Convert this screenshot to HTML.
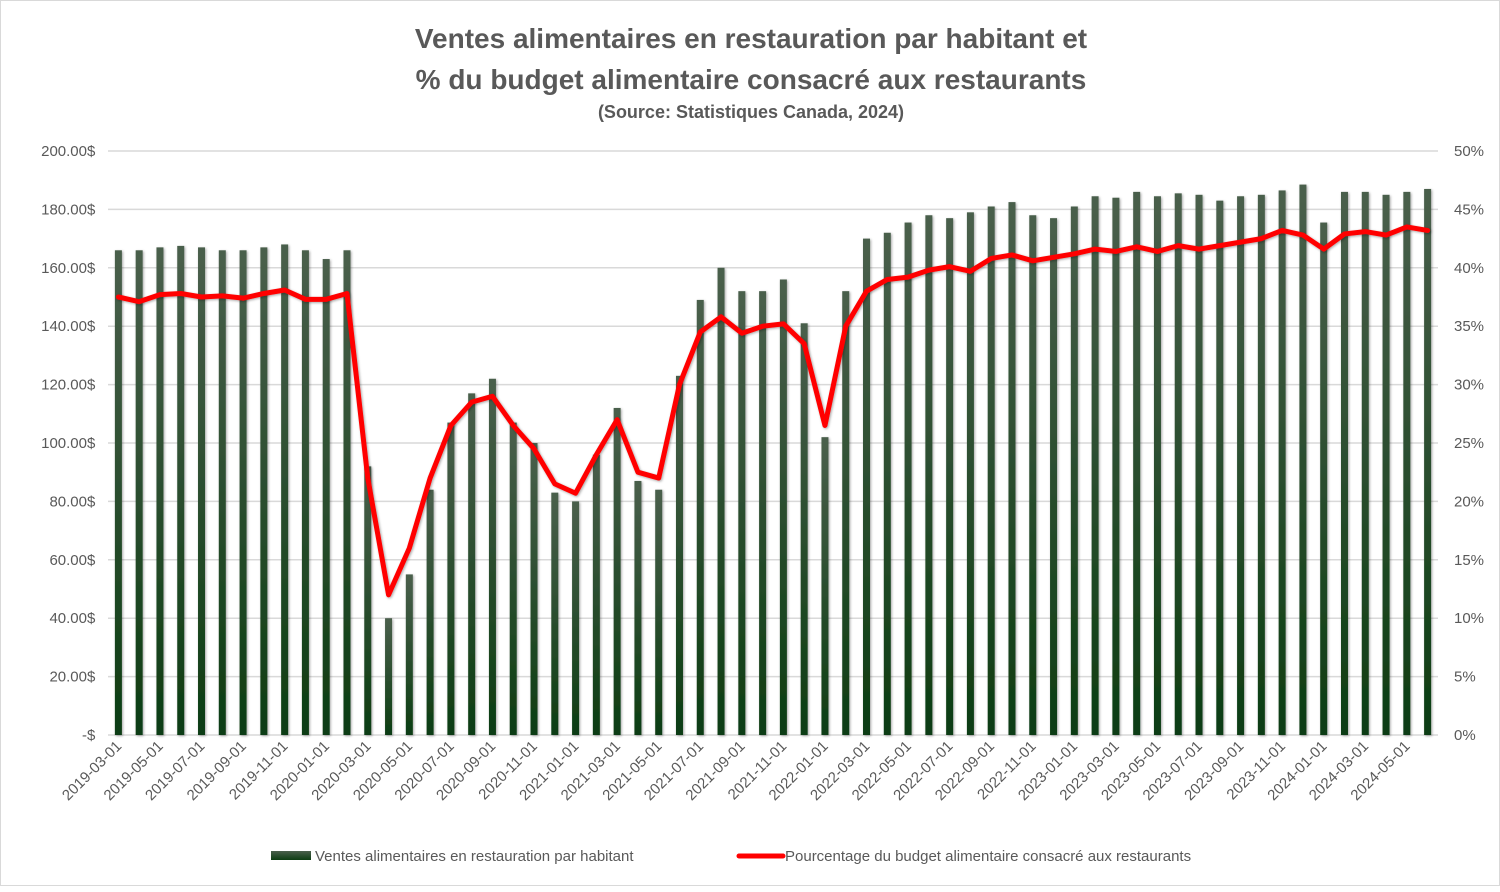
<!DOCTYPE html>
<html><head><meta charset="utf-8"><style>
body{margin:0;background:#fff;}
#wrap{position:relative;width:1500px;height:886px;border:1px solid #d9d9d9;box-sizing:border-box;font-family:"Liberation Sans",sans-serif;}
</style></head><body>
<div id="wrap">
<svg id="chart" width="1500" height="886">
<defs><linearGradient id="bg" x1="0" y1="0" x2="0" y2="1"><stop offset="0" stop-color="#4a5f4c"/><stop offset="1" stop-color="#0c3d12"/></linearGradient>
<filter id="sh" x="-50%" y="-5%" width="200%" height="110%"><feDropShadow dx="1" dy="1" stdDeviation="1.2" flood-color="#000" flood-opacity="0.35"/></filter></defs>
<text x="750" y="47" text-anchor="middle" font-size="28" font-weight="bold" fill="#595959">Ventes alimentaires en restauration par habitant et</text>
<text x="750" y="88" text-anchor="middle" font-size="28" font-weight="bold" fill="#595959">% du budget alimentaire consacré aux restaurants</text>
<text x="750" y="117" text-anchor="middle" font-size="18" font-weight="bold" fill="#595959">(Source: Statistiques Canada, 2024)</text>
<g id="grid"></g><g id="bars"></g><g id="line"></g><g id="axes"></g>
<g>
<rect x="270" y="850" width="40" height="9" fill="url(#bg)"/>
<text x="314" y="860" font-size="15" fill="#595959">Ventes alimentaires en restauration par habitant</text>
<line x1="738" y1="855" x2="782" y2="855" stroke="#ff0000" stroke-width="5" stroke-linecap="round"/>
<text x="784" y="860" font-size="15" fill="#595959">Pourcentage du budget alimentaire consacré aux restaurants</text>
</g>
</svg>
</div>
<script>
const sales=[166,166,167,167.5,167,166,166,167,168,166,163,166,
92,40,55,84,107,117,122,107,100,83,
80,96,112,87,84,123,149,160,152,152,156,141,
102,152,170,172,175.5,178,177,179,181,182.5,178,177,
181,184.5,184,186,184.5,185.5,185,183,184.5,185,186.5,188.5,
175.5,186,186,185,186,187];
const pct=[37.5,37.1,37.7,37.8,37.5,37.6,37.4,37.8,38.1,37.3,37.3,37.8,
22,12,16,22,26.5,28.5,29,26.5,24.5,21.5,
20.7,24,27,22.5,22,30,34.5,35.8,34.4,35,35.2,33.5,
26.5,35,38,39,39.2,39.8,40.1,39.7,40.8,41.1,40.6,40.9,
41.2,41.6,41.4,41.8,41.4,41.9,41.6,41.9,42.2,42.5,43.2,42.8,
41.6,42.9,43.1,42.8,43.5,43.2];
const leftTicks=[0,20,40,60,80,100,120,140,160,180,200];
const rightTicks=[0,5,10,15,20,25,30,35,40,45,50];
const startYear=2019,startMonth=3;
const NS="http://www.w3.org/2000/svg";
const X0=107,X1=1437,Y0=734,Y1=150;
const n=sales.length,step=(X1-X0)/n;
const xC=i=>X0+step*(i+0.5);
const yL=v=>Y0-(v/200)*(Y0-Y1);
const yR=v=>Y0-(v/50)*(Y0-Y1);
function mk(tag,attrs,parent){const e=document.createElementNS(NS,tag);for(const k in attrs)e.setAttribute(k,attrs[k]);parent.appendChild(e);return e;}
const grid=document.getElementById('grid'),axes=document.getElementById('axes');
leftTicks.forEach((t,i)=>{
 const y=yL(t);
 const g=mk('line',{x1:X0,x2:X1,y1:y,y2:y,stroke:'#d9d9d9','stroke-width':1.5},grid);
 
 
 const lt=mk('text',{x:86,y:y+5,'text-anchor':'end','font-size':15,fill:'#595959'},axes);
 lt.textContent=t===0?'-  ':t.toFixed(2)+' ';
 
 
 const $=mk('text',{x:86,y:y+5,'font-size':15,fill:'#595959'},axes);$.textContent='$';
 
 
});
rightTicks.forEach(t=>{
 const rt=mk('text',{x:1453,y:yR(t)+5,'font-size':15,fill:'#595959'},axes);
 rt.textContent=t+'%';
 
 
});
const bars=document.getElementById('bars');
sales.forEach((v,i)=>{
 const b=mk('rect',{x:xC(i)-3.5,y:yL(v),width:7,height:Y0-yL(v),fill:'url(#bg)',filter:'url(#sh)'},bars);
 
 
 if(i%2===0){
  const m=(startMonth-1+i)%12+1,yr=startYear+Math.floor((startMonth-1+i)/12);
  const lx=xC(i)+4,ly=Y0+12;
  const tl=mk('text',{x:lx,y:ly,'text-anchor':'end','font-size':15,fill:'#595959',transform:`rotate(-45 ${lx} ${ly})`},axes);
  tl.textContent=yr+'-'+String(m).padStart(2,'0')+'-01';
  
  
 }
});
const line=document.getElementById('line');
const pts=pct.map((v,i)=>xC(i)+','+yR(v)).join(' ');
const pl=mk('polyline',{points:pts,fill:'none',stroke:'#ff0000','stroke-width':5,'stroke-linejoin':'round','stroke-linecap':'round',filter:'url(#sh)'},line);


</script>
</body></html>
